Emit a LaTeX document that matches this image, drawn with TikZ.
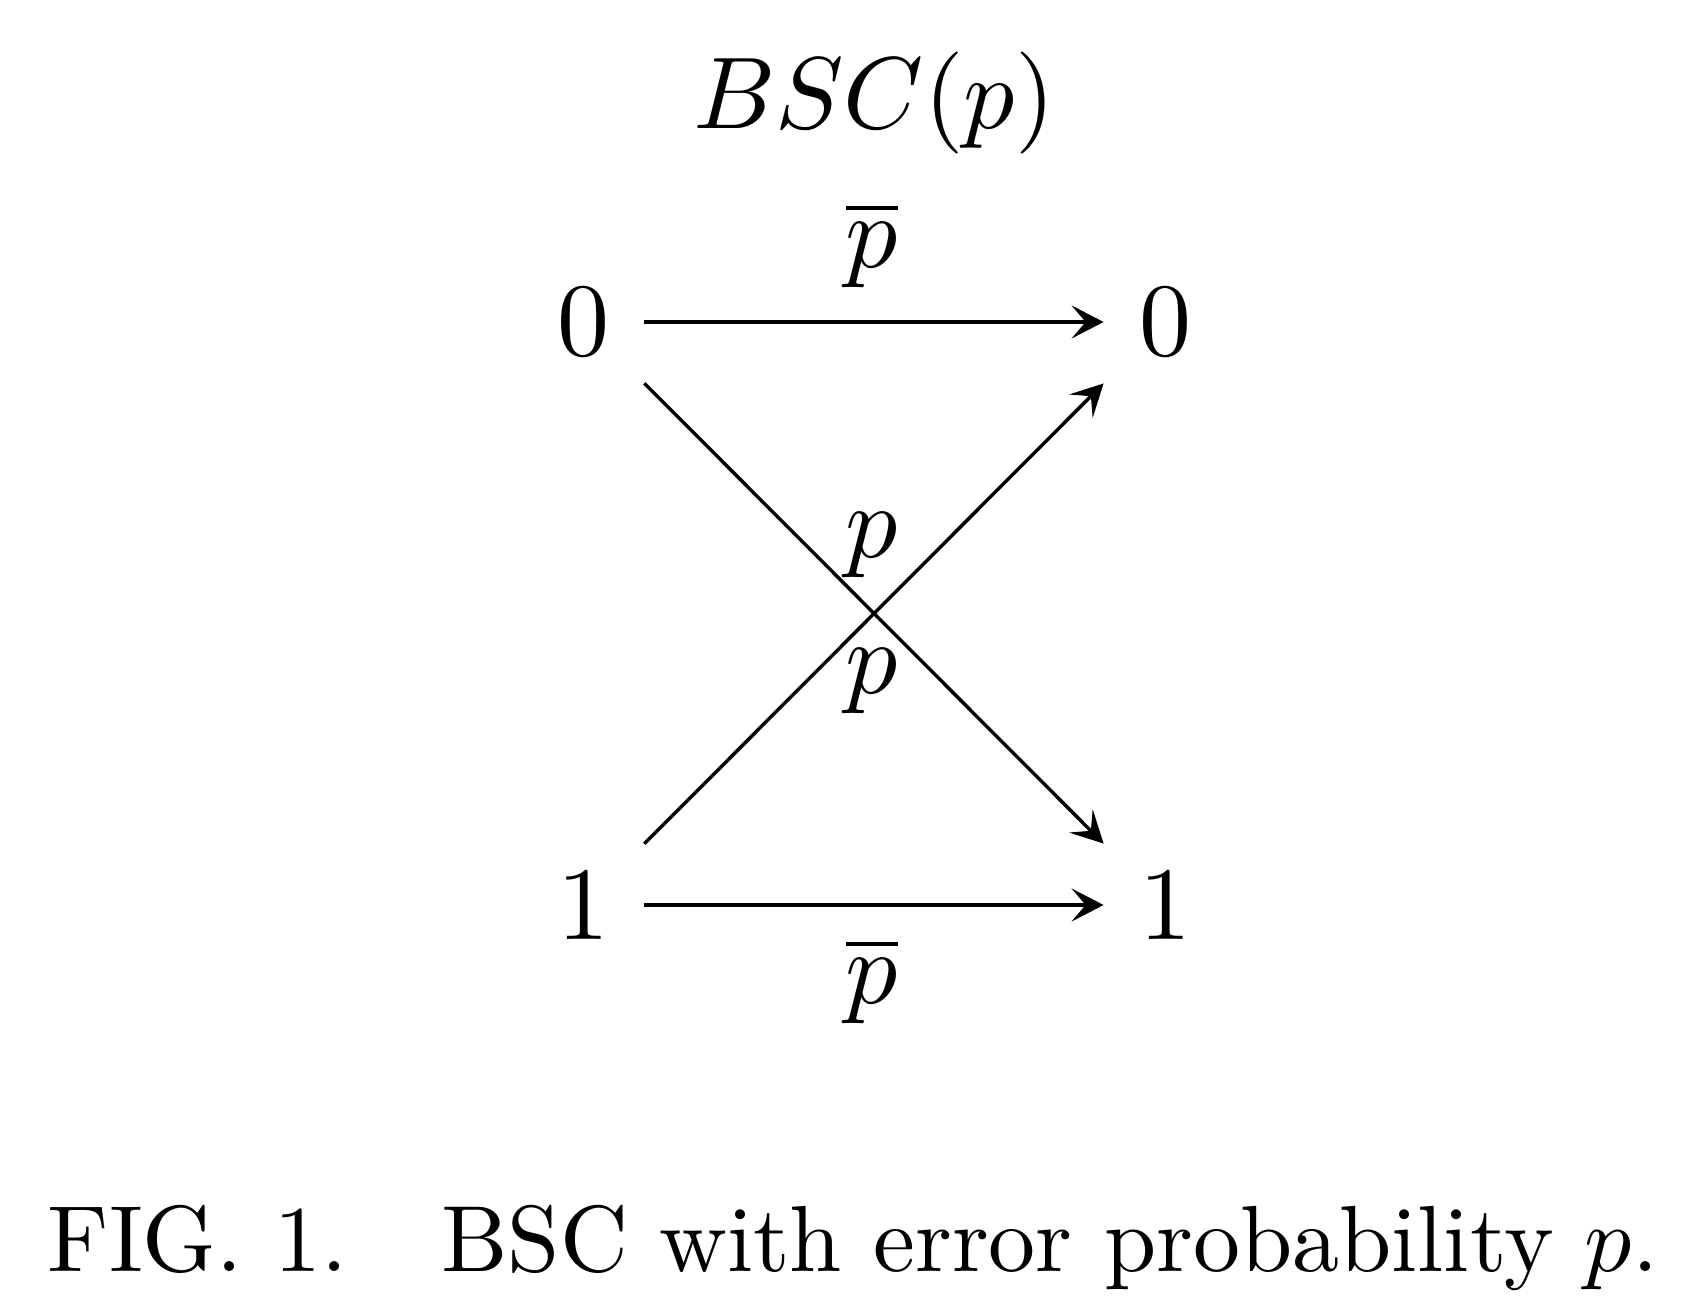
\documentclass[tikz,border=0pt]{standalone}
\usepackage{graphicx}
\usetikzlibrary{arrows.meta}
\newcommand{\symtxt}[1]{\scalebox{5.2}{#1}}
\newcommand{\ttltxt}[1]{\scalebox{5.1}{#1}}
\newcommand{\captxt}[1]{\scalebox{4.7}{#1}}
\begin{document}
\begin{tikzpicture}[x=0.5pt,y=-0.5pt,
  sym/.style={inner sep=0pt, minimum width=61pt, minimum height=70pt},
  lbl/.style={inner sep=0pt, anchor=base},
  chan/.style={line width=1.7pt, -{Stealth[length=16pt,width=16.5pt,inset=7pt]}}]
\useasboundingbox (0,0) rectangle (1698,1312);
\node[lbl] (title) at (874,128) {\ttltxt{$BSC(p)$}};
\node[sym] (l0) at (583,322) {\symtxt{0}};
\node[sym] (r0) at (1165,322) {\symtxt{0}};
\node[sym] (l1) at (583,905) {\symtxt{1}};
\node[sym] (r1) at (1165,905) {\symtxt{1}};
\draw[chan] (l0) -- (r0);
\draw[chan] (l1) -- (r1);
\draw[chan] (l0) -- (r1);
\draw[chan] (l1) -- (r0);
\node[lbl] (pb0) at (872,267) {\symtxt{$\overline{p}$}};
\node[lbl] (pu) at (872,557) {\symtxt{$p$}};
\node[lbl] (pd) at (872,693) {\symtxt{$p$}};
\node[lbl] (pb1) at (872,1003) {\symtxt{$\overline{p}$}};
\node[lbl] (cap) at (853,1271) {\captxt{FIG. 1.\quad BSC with error probability $p$.}};
\end{tikzpicture}
\end{document}
